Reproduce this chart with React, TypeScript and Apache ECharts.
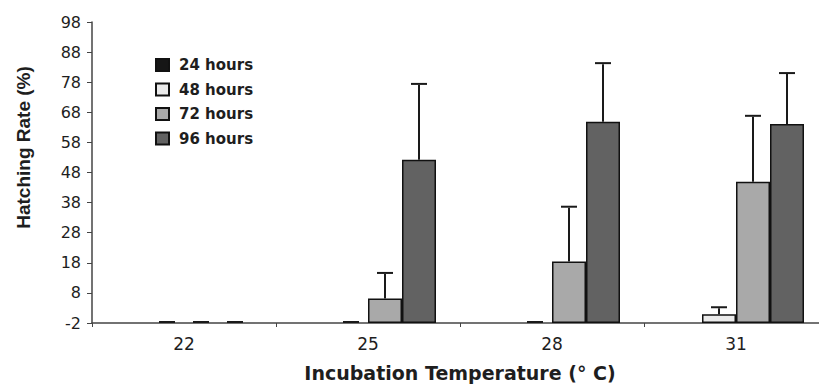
import React, { useEffect, useRef } from "react";
import * as echarts from "echarts";

// Data (values in plot units measured from the bottom axis line)
const categories = ["22", "25", "28", "31"];
const seriesNames = ["24 hours", "48 hours", "72 hours", "96 hours"];
const hours24: (number | null)[] = [null, null, null, null];
const hours48: (number | null)[] = [0, 0, 0, 2.9];
const hours72: (number | null)[] = [0, 8.1, 20.4, 46.9];
const hours96: (number | null)[] = [0, 54.2, 66.9, 66.1];
const err24: (number | null)[] = [null, null, null, null];
const err48: (number | null)[] = [0, 0, 0, 2.0];
const err72: (number | null)[] = [0, 8.2, 17.9, 21.6];
const err96: (number | null)[] = [0, 24.9, 19.1, 16.6];
const yTickLabels = ["-2", "8", "18", "28", "38", "48", "58", "68", "78", "88", "98"];

const BAR_W = 34;
const CAP_W = 16;
const WIDE = "DejaVu Sans, sans-serif";
const NARROW = "Liberation Sans, Arial, sans-serif";
const TEXT = "#1e1e1e";
const fills = ["#161616", "#ebebeb", "#a9a9a9", "#626262"];

export default function App() {
  const ref = useRef<HTMLDivElement>(null);
  useEffect(() => {
    if (!ref.current) return;
    const chart = echarts.init(ref.current, undefined, { renderer: "svg" });
    const values = [hours24, hours48, hours72, hours96];
    const errs = [err24, err48, err72, err96];
    const errData: any[] = [];
    values.forEach((arr, si) => {
      arr.forEach((v, ci) => {
        const e = errs[si][ci];
        if (v !== null && e !== null) errData.push([ci, si, v, v + e]);
      });
    });
    const barSeries = seriesNames.map((name, si) => ({
      name,
      type: "bar",
      data: values[si].map((v) => (v === 0 ? { value: 0, itemStyle: { borderWidth: 0, opacity: 0 } } : v)),
      barWidth: BAR_W,
      barGap: "0%",
      itemStyle: { color: fills[si], borderColor: "#111", borderWidth: 1.5 },
      z: 2,
    }));
    chart.setOption({
      animation: false,
      backgroundColor: "#ffffff",
      textStyle: { fontFamily: WIDE },
      grid: {
        left: 92,
        width: 736,
        top: 22,
        bottom: 65,
        containLabel: false,
        outerBoundsMode: "none",
      },
      legend: {
        orient: "vertical",
        left: 150,
        top: 52,
        itemWidth: 13,
        itemHeight: 12,
        itemGap: 8.5,
        icon: "rect",
        data: seriesNames,
        textStyle: {
          fontFamily: WIDE,
          fontSize: 15,
          fontWeight: "bold",
          lineHeight: 16,
          color: TEXT,
          padding: [0, 0, 0, 5],
        },
      },
      xAxis: {
        type: "category",
        data: categories,
        name: "Incubation Temperature (° C)",
        nameLocation: "middle",
        nameGap: 40,
        nameTextStyle: { fontFamily: WIDE, fontSize: 19, fontWeight: "bold", color: TEXT },
        axisLine: { lineStyle: { color: "#444", width: 1.5 } },
        axisTick: { show: true, alignWithLabel: false, interval: 0, length: 4, lineStyle: { color: "#444" } },
        axisLabel: { fontFamily: WIDE, fontSize: 17, color: TEXT, margin: 12 },
      },
      yAxis: {
        type: "value",
        min: 0,
        max: 100,
        interval: 10,
        name: "Hatching Rate (%)",
        nameLocation: "middle",
        nameGap: 59,
        nameRotate: 90,
        nameTextStyle: {
          fontFamily: NARROW,
          fontSize: 19,
          fontWeight: "bold",
          color: TEXT,
          padding: [0, 0, 0, 50],
        },
        splitLine: { show: false },
        axisLine: { show: true, lineStyle: { color: "#444", width: 1.5 } },
        axisTick: { show: true, length: 5, lineStyle: { color: "#444" } },
        axisLabel: {
          fontFamily: WIDE,
          fontSize: 16,
          color: TEXT,
          margin: 11,
          formatter: (v: number) => yTickLabels[Math.round(v / 10)] ?? "",
        },
      },
      series: [
        ...barSeries,
        {
          type: "custom",
          z: 5,
          data: errData,
          encode: { x: 0, y: [2, 3] },
          renderItem: (params: any, api: any) => {
            const ci = api.value(0);
            const si = api.value(1);
            const base = api.coord([ci, api.value(2)]);
            const top = api.coord([ci, api.value(3)]);
            const x = base[0] + (si - 1.5) * BAR_W;
            const style = { stroke: "#1a1a1a", lineWidth: 2 };
            return {
              type: "group",
              children: [
                { type: "line", shape: { x1: x, y1: base[1], x2: x, y2: top[1] }, style },
                { type: "line", shape: { x1: x - CAP_W / 2, y1: top[1] - 1, x2: x + CAP_W / 2, y2: top[1] - 1 }, style },
              ],
            };
          },
        },
      ],
    });
    return () => chart.dispose();
  }, []);
  return <div ref={ref} style={{ width: 819, height: 388, position: "absolute", left: 0, top: 0 }} />;
}
